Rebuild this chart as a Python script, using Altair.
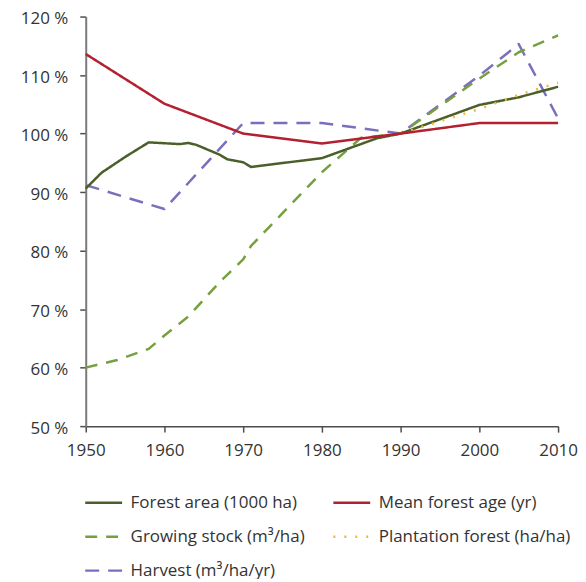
import altair as alt
import pandas as pd

# ---- data (index, 1990 = 100 %) ----
series_names = [
    "Forest area (1000 ha)",
    "Mean forest age (yr)",
    "Growing stock (m³/ha)",
    "Plantation forest (ha/ha)",
    "Harvest (m³/ha/yr)",
]
series_colors = ["#4b5f2a", "#b3202f", "#76a040", "#f4b731", "#7a6fbd"]
series_dashes = [[1, 0], [1, 0], [12, 9], [2, 9], [14, 9]]

area_years = [1950, 1952, 1955, 1958, 1962, 1963, 1964, 1967, 1968, 1970, 1971,
              1980, 1987, 1990, 2000, 2005, 2010]
area_vals = [90.6, 93.3, 96.0, 98.5, 98.2, 98.4, 98.1, 96.4, 95.6, 95.1, 94.3,
             95.8, 99.2, 100.0, 104.9, 106.2, 108.0]

age_years = [1950, 1960, 1970, 1980, 1990, 2000, 2010]
age_vals = [113.6, 105.1, 100.0, 98.3, 100.0, 101.8, 101.8]

stock_years = [1950, 1954, 1958, 1960, 1963, 1967, 1970, 1971, 1980, 1985, 1990,
               2000, 2005, 2010]
stock_vals = [60.0, 61.3, 63.2, 65.5, 68.7, 74.6, 78.5, 80.8, 93.4, 99.3, 100.0,
              109.4, 113.9, 116.8]

plant_years = [1990, 2000, 2005, 2010]
plant_vals = [100.0, 104.2, 106.6, 108.7]

harv_years = [1950, 1960, 1970, 1980, 1990, 2000, 2005, 2010]
harv_vals = [91.2, 87.1, 101.8, 101.8, 100.0, 109.9, 115.3, 102.6]

x_ticks = [1950, 1960, 1970, 1980, 1990, 2000, 2010]
y_ticks = [50, 60, 70, 80, 90, 100, 110, 120]

# drawing order (bottom -> top)
draw = [
    (series_names[4], harv_years, harv_vals),
    (series_names[2], stock_years, stock_vals),
    (series_names[0], area_years, area_vals),
    (series_names[3], plant_years, plant_vals),
    (series_names[1], age_years, age_vals),
]
rows = []
for i, (name, ys, vs) in enumerate(draw):
    for y, v in zip(ys, vs):
        rows.append({"series": name, "year": y, "value": v, "ord": i})
df = pd.DataFrame(rows)

FONT = "Open Sans"

chart = (
    alt.Chart(df)
    .mark_line(strokeWidth=2.5, strokeCap="butt", strokeJoin="round")
    .encode(
        x=alt.X(
            "year:Q",
            scale=alt.Scale(domain=[1950, 2010], nice=False, zero=False),
            axis=alt.Axis(
                values=x_ticks, format="d", title=None, grid=False,
                domainColor="#4d4d4d", domainWidth=1.5,
                tickColor="#4d4d4d", tickWidth=1.5, tickSize=6,
                labelFont=FONT, labelFontSize=17, labelColor="#333333",
                labelPadding=10, labelFlush=False, labelOverlap=False,
            ),
        ),
        y=alt.Y(
            "value:Q",
            scale=alt.Scale(domain=[50, 120], nice=False, zero=False),
            axis=alt.Axis(
                values=y_ticks, labelExpr="datum.value + ' %'", title=None,
                grid=False, domainColor="#7a7a7a", domainWidth=2,
                tickColor="#4d4d4d", tickWidth=1.5, tickSize=6,
                labelFont=FONT, labelFontSize=17, labelColor="#333333",
                labelPadding=12, labelOffset=2, labelFlush=False,
                labelOverlap=False,
            ),
        ),
        color=alt.Color(
            "series:N",
            scale=alt.Scale(domain=series_names, range=series_colors),
            legend=alt.Legend(title=None),
        ),
        strokeDash=alt.StrokeDash(
            "series:N",
            scale=alt.Scale(domain=series_names, range=series_dashes),
            legend=alt.Legend(title=None),
        ),
        order="ord:Q",
    )
    .properties(
        width=474,
        height=411,
        autosize=alt.AutoSizeParams(type="none"),
        padding={"left": 78, "top": 7.6, "right": 20, "bottom": 152},
    )
    .configure_view(stroke=None)
    .configure_legend(
        orient="none",
        direction="horizontal",
        legendX=-2,
        legendY=468,
        columns=2,
        symbolType="stroke",
        symbolSize=1369,
        symbolStrokeWidth=2.5,
        labelFont=FONT,
        labelFontSize=17,
        labelColor="#333333",
        labelOffset=7,
        labelLimit=400,
        rowPadding=6,
        columnPadding=23,
        symbolOffset=0,
    )
)

chart.save("out.html", embed_options={"renderer": "svg", "actions": False})
